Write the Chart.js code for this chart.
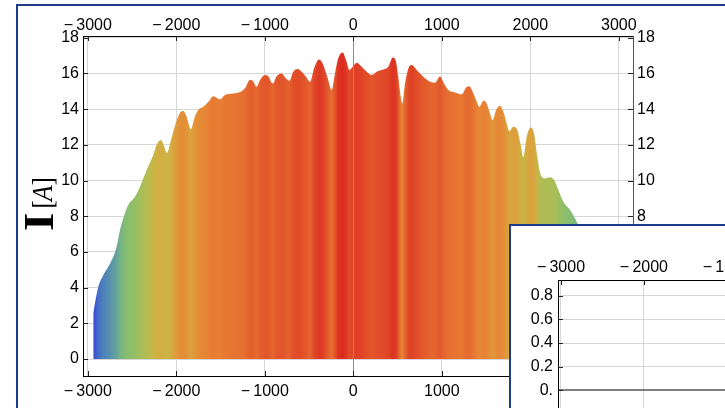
<!DOCTYPE html>
<html>
<head>
<meta charset="utf-8">
<script src="https://cdn.jsdelivr.net/npm/chart.js@4.4.1/dist/chart.umd.min.js"></script>
<style>
  html, body { margin: 0; padding: 0; background: #fff; }
  body { width: 725px; height: 408px; overflow: hidden; position: relative; }
  #frame { position: absolute; left: 16px; top: 4px; width: 800px; height: 500px; border: 2px solid #1d3d8c; }
  #main { position: absolute; left: 0; top: 0; }
  #insetBox { position: absolute; left: 509px; top: 224px; width: 700px; height: 300px; border: 2px solid #1d3d8c; background: #fff; }
  #inset { position: absolute; left: 0; top: 0; }
</style>
</head>
<body>
<div id="frame"></div>
<canvas id="main" width="725" height="408"></canvas>
<div id="insetBox"><canvas id="inset" width="600" height="250"></canvas></div>
<script>
// ----- Data -----
const currentX = [
  -2938, -2919, -2881, -2825, -2768, -2712, -2674, -2636, -2599, -2543,
  -2467, -2410, -2335, -2260, -2222, -2173, -2136, -2105, -2060, -2007,
  -1958, -1921, -1883, -1834, -1797, -1752, -1695, -1638, -1582, -1506,
  -1450, -1356, -1261, -1220, -1167, -1137, -1092, -1054, -998, -961,
  -911, -866, -809, -760, -723, -678, -633, -583, -534, -489,
  -444, -388, -346, -294, -244, -207, -170, -120, -82, -45,
  -7, 38, 95, 151, 208, 264, 339, 396, 445, 483,
  508, 536, 554, 584, 622, 660, 716, 791, 867, 923,
  980, 1025, 1074, 1149, 1225, 1274, 1311, 1349, 1387, 1424,
  1469, 1507, 1545, 1575, 1613, 1658, 1695, 1733, 1763, 1808,
  1853, 1892, 1921, 1959, 2005, 2042, 2079, 2118, 2166, 2223,
  2268, 2317, 2373, 2449, 2505, 2562, 2650, 2750, 2850, 2940
];
const currentY = [
  2.56, 3.12, 4.05, 4.70, 5.17, 5.73, 6.29, 7.23, 7.88, 8.63,
  9.09, 9.65, 10.59, 11.43, 11.99, 12.27, 11.90, 11.56, 12.27, 13.20,
  13.80, 13.90, 13.58, 12.87, 13.48, 13.95, 14.13, 14.41, 14.73, 14.55,
  14.79, 14.88, 15.01, 15.20, 15.65, 15.59, 15.26, 15.63, 15.91, 15.85,
  15.44, 15.85, 16.00, 15.72, 15.59, 16.10, 16.25, 16.10, 15.81, 15.53,
  16.28, 16.79, 16.56, 15.81, 15.07, 16.00, 16.85, 17.18, 16.75, 16.19,
  16.38, 16.60, 16.38, 16.10, 15.91, 16.10, 16.23, 16.38, 16.90, 16.66,
  15.81, 14.69, 14.32, 15.44, 16.28, 16.47, 16.19, 15.81, 15.53, 15.48,
  15.83, 15.44, 15.07, 14.94, 14.83, 15.22, 15.29, 14.98, 14.51, 14.13,
  14.47, 14.32, 13.76, 13.39, 13.95, 14.19, 13.85, 13.20, 12.77, 13.01,
  12.83, 11.99, 11.30, 12.45, 12.98, 12.64, 11.33, 10.31, 10.12, 10.18,
  10.03, 9.47, 8.81, 8.35, 7.88, 7.30, 6.30, 5.20, 4.00, 2.60
];
const xTicks = [-3000, -2000, -1000, 0, 1000, 2000, 3000];
const yTicks = [0, 2, 4, 6, 8, 10, 12, 14, 16, 18];
const insetYTicks = [0, 0.2, 0.4, 0.6, 0.8];
const insetYLabels = ['0.', '0.2', '0.4', '0.6', '0.8'];

// ----- Colour map: current value -> colour -----
const cmapValues = [2.5, 4.0, 5.5, 7.0, 8.5, 10.0, 11.5, 12.5, 13.5, 14.5, 15.5, 16.3, 17.2];
const cmapColors = [
  [58, 64, 212], [66, 110, 200], [90, 150, 170], [112, 176, 140], [136, 190, 110],
  [170, 190, 86], [200, 182, 70], [214, 170, 64], [226, 150, 58], [232, 128, 52],
  [228, 100, 46], [224, 72, 40], [220, 40, 32]
];

function colorFor(v) {
  if (v <= cmapValues[0]) return 'rgb(' + cmapColors[0].join(',') + ')';
  for (let i = 1; i < cmapValues.length; i++) {
    if (v <= cmapValues[i]) {
      const t = (v - cmapValues[i - 1]) / (cmapValues[i] - cmapValues[i - 1]);
      const a = cmapColors[i - 1], b = cmapColors[i];
      const c = a.map((ch, k) => Math.round(ch + (b[k] - ch) * t));
      return 'rgb(' + c.join(',') + ')';
    }
  }
  return 'rgb(' + cmapColors[cmapColors.length - 1].join(',') + ')';
}

function fillGradient(context) {
  const chart = context.chart;
  const area = chart.chartArea;
  if (!area) return 'rgba(0,0,0,0)';
  const xs = chart.scales.x;
  const g = chart.ctx.createLinearGradient(area.left, 0, area.right, 0);
  currentX.forEach((x, i) => {
    const off = (xs.getPixelForValue(x) - area.left) / (area.right - area.left);
    g.addColorStop(Math.min(1, Math.max(0, off)), colorFor(currentY[i]));
  });
  return g;
}

const FONT = { family: '"Liberation Sans", Arial, sans-serif', size: 16 };
const GRID = '#d6d6d6';

function fmtX(v) {
  return v < 0 ? '\u2212\u2009' + Math.abs(v) : String(v);
}

// ----- Plugins -----
const insideTicks = {
  id: 'insideTicks',
  afterDraw(chart) {
    const { ctx, chartArea: a } = chart;
    ctx.save();
    ctx.strokeStyle = '#222';
    ctx.lineWidth = 1;
    Object.values(chart.scales).forEach(s => {
      s.ticks.forEach(t => {
        const p = Math.round(s.getPixelForValue(t.value)) + 0.5;
        ctx.beginPath();
        if (s.position === 'bottom') { ctx.moveTo(p, a.bottom); ctx.lineTo(p, a.bottom - 5); }
        if (s.position === 'top') { ctx.moveTo(p, a.top); ctx.lineTo(p, a.top + 5); }
        if (s.position === 'left') { ctx.moveTo(a.left, p); ctx.lineTo(a.left + 5, p); }
        if (s.position === 'right') { ctx.moveTo(a.right, p); ctx.lineTo(a.right - 5, p); }
        ctx.stroke();
      });
    });
    ctx.restore();
  }
};

const zeroLine = {
  id: 'zeroLine',
  afterDatasetsDraw(chart) {
    const { ctx, chartArea: a } = chart;
    const p = Math.round(chart.scales.x.getPixelForValue(0)) + 0.5;
    ctx.save();
    ctx.strokeStyle = '#8c8c8c';
    ctx.lineWidth = 1;
    ctx.beginPath();
    ctx.moveTo(p, a.top);
    ctx.lineTo(p, a.bottom);
    ctx.stroke();
    ctx.restore();
  }
};

const yTitle = {
  id: 'yTitle',
  afterDraw(chart) {
    const ctx = chart.ctx;
    const serif = '"Liberation Serif", "DejaVu Serif", serif';
    ctx.save();
    ctx.translate(53, 231);
    ctx.rotate(-Math.PI / 2);
    ctx.fillStyle = '#000';
    ctx.textBaseline = 'alphabetic';
    ctx.font = 'bold 42px ' + serif;
    ctx.save();
    ctx.scale(1.12, 1);
    ctx.fillText('I', 0, 0);
    ctx.restore();
    let x = ctx.measureText('I').width * 1.12 + 4;
    ctx.scale(0.85, 1);
    x = x / 0.85;
    ctx.font = '30px ' + serif;
    ctx.fillText('[', x, -1);
    x += ctx.measureText('[').width;
    ctx.font = 'italic 30px ' + serif;
    ctx.fillText('A', x - 1, -1);
    x += ctx.measureText('A').width - 1;
    ctx.font = '30px ' + serif;
    ctx.fillText(']', x, -1);
    ctx.restore();
  }
};

// ----- Main chart -----
new Chart(document.getElementById('main'), {
  type: 'line',
  data: {
    datasets: [{
      data: currentX.map((x, i) => ({ x: x, y: currentY[i] })),
      fill: 'origin',
      borderWidth: 0,
      pointRadius: 0,
      cubicInterpolationMode: 'monotone',
      backgroundColor: fillGradient
    }]
  },
  options: {
    responsive: false,
    animation: false,
    devicePixelRatio: 1,
    layout: { padding: 0 },
    plugins: { legend: { display: false }, tooltip: { enabled: false } },
    scales: {
      x: {
        type: 'linear', position: 'bottom', min: -3054, max: 3160,
        afterBuildTicks: s => { s.ticks = xTicks.map(v => ({ value: v })); },
        afterFit: s => { s.height = 32; },
        grid: { color: GRID, drawTicks: false },
        border: { color: '#000', width: 1 },
        ticks: { font: FONT, color: '#000', padding: 6, maxRotation: 0, autoSkip: false, callback: fmtX }
      },
      x2: {
        type: 'linear', position: 'top', min: -3054, max: 3160,
        afterBuildTicks: s => { s.ticks = xTicks.map(v => ({ value: v })); },
        afterFit: s => { s.height = 36; },
        grid: { display: false, drawTicks: false },
        border: { color: '#000', width: 1 },
        ticks: { font: FONT, color: '#000', padding: 1, maxRotation: 0, autoSkip: false, callback: fmtX }
      },
      y: {
        type: 'linear', position: 'left', min: -0.95, max: 18.1,
        afterBuildTicks: s => { s.ticks = yTicks.map(v => ({ value: v })); },
        afterFit: s => { s.width = 83; },
        grid: { color: GRID, drawTicks: false },
        border: { color: '#000', width: 1 },
        ticks: { font: FONT, color: '#000', padding: 4 }
      },
      y2: {
        type: 'linear', position: 'right', min: -0.95, max: 18.1,
        afterBuildTicks: s => { s.ticks = yTicks.map(v => ({ value: v })); },
        afterFit: s => { s.width = 92; },
        grid: { display: false, drawTicks: false },
        border: { color: '#555', width: 1 },
        ticks: { font: FONT, color: '#000', padding: 4 }
      }
    }
  },
  plugins: [zeroLine, insideTicks, yTitle]
});

// ----- Inset chart -----
new Chart(document.getElementById('inset'), {
  type: 'line',
  data: { datasets: [] },
  options: {
    responsive: false,
    animation: false,
    devicePixelRatio: 1,
    layout: { padding: { right: 40 } },
    plugins: { legend: { display: false }, tooltip: { enabled: false } },
    scales: {
      x: {
        type: 'linear', position: 'top', min: -3036, max: 3150,
        afterBuildTicks: s => { s.ticks = xTicks.map(v => ({ value: v })); },
        afterFit: s => { s.height = 54; },
        grid: { color: GRID, drawTicks: false },
        border: { color: '#000', width: 1 },
        ticks: { font: FONT, color: '#000', padding: 3, maxRotation: 0, autoSkip: false, callback: fmtX }
      },
      y: {
        type: 'linear', position: 'left', min: -0.6, max: 0.933,
        afterBuildTicks: s => { s.ticks = insetYTicks.map(v => ({ value: v })); },
        afterFit: s => { s.width = 47; },
        grid: {
          color: c => (c.tick && c.tick.value === 0 ? '#808080' : GRID),
          lineWidth: c => (c.tick && c.tick.value === 0 ? 2 : 1),
          drawTicks: false
        },
        border: { color: '#000', width: 1 },
        ticks: { font: FONT, color: '#000', padding: 5, callback: (v, i) => insetYLabels[i] }
      }
    }
  },
  plugins: [insideTicks]
});
</script>
</body>
</html>
